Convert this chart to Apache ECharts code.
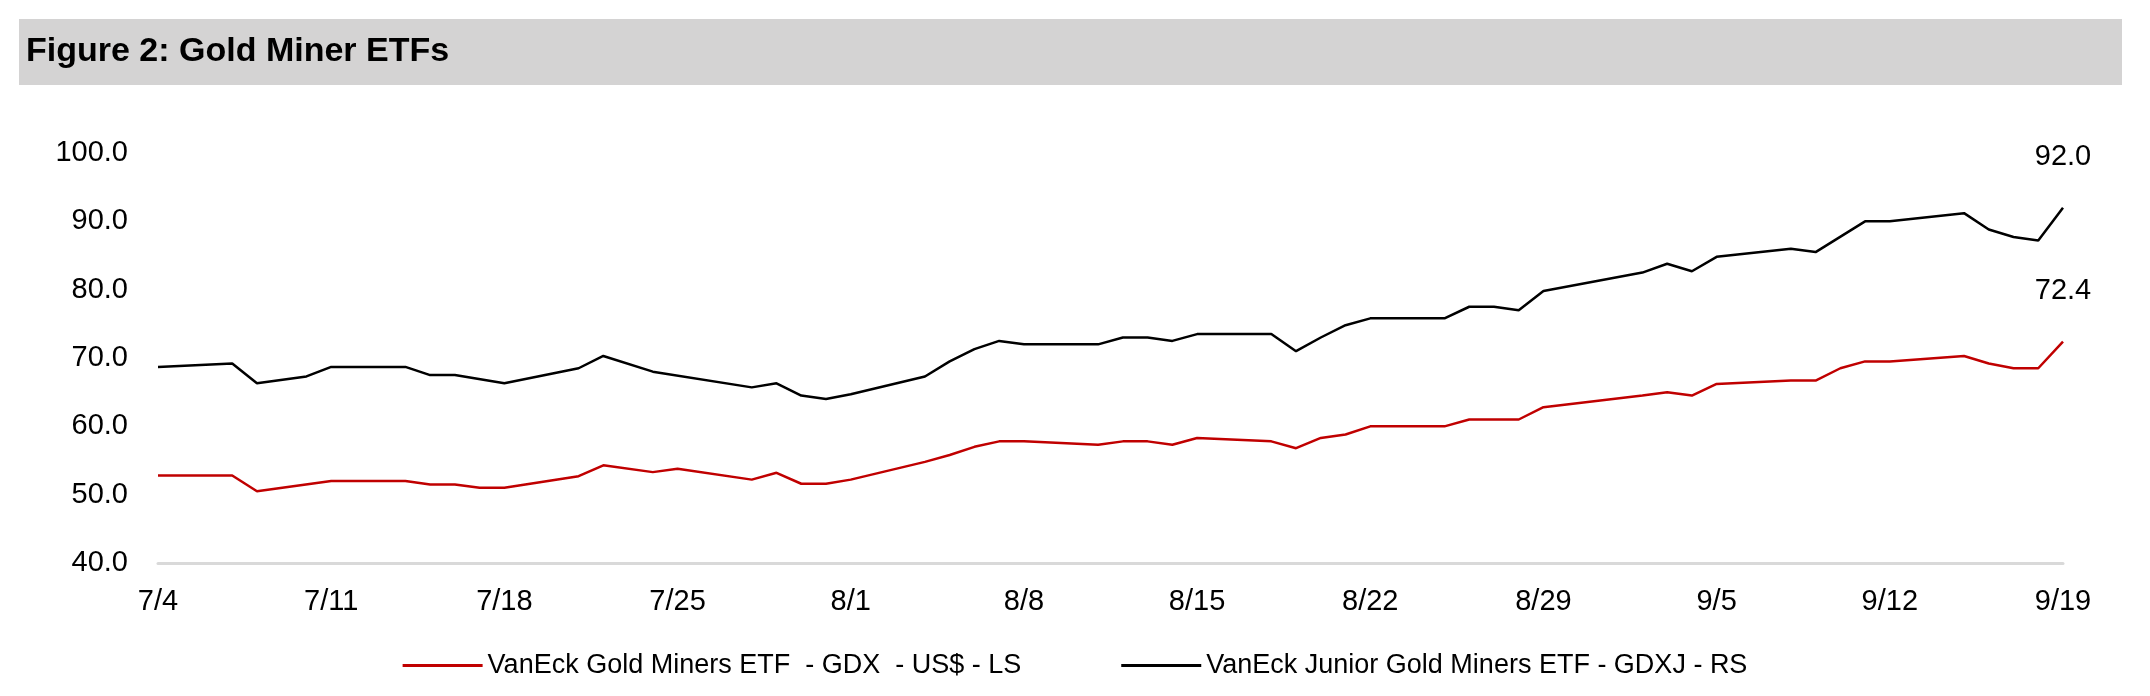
<!DOCTYPE html><html><head><meta charset="utf-8"><script src="https://cdn.jsdelivr.net/npm/echarts@6/dist/echarts.min.js"></script>
<style>body{margin:0;background:#fff}#c{width:2150px;height:696px}</style></head><body><div id="c"></div><script>
const gdxPts={0:52.8,3:52.8,4:50.5,7:52.0,10:52.0,11:51.5,12:51.5,13:51.0,14:51.0,17:52.7,18:54.3,20:53.3,21:53.8,24:52.2,25:53.2,26:51.6,27:51.6,28:52.2,31:54.8,32:55.8,33:57.0,34:57.8,35:57.8,38:57.3,39:57.8,40:57.8,41:57.3,42:58.3,45:57.8,46:56.8,47:58.3,48:58.8,49:60.0,52:60.0,53:61.0,55:61.0,56:62.8,60:64.5,61:65.0,62:64.5,63:66.2,66:66.7,67:66.7,68:68.5,69:69.5,70:69.5,73:70.3,74:69.2,75:68.5,76:68.5,77:72.4};
const gdxjPts={0:68.7,3:69.2,4:66.3,6:67.3,7:68.7,10:68.7,11:67.5,12:67.5,14:66.3,17:68.5,18:70.3,20:68.0,24:65.7,25:66.3,26:64.5,27:64.0,28:64.7,31:67.3,32:69.5,33:71.3,34:72.5,35:72.0,38:72.0,39:73.0,40:73.0,41:72.5,42:73.5,45:73.5,46:71.0,47:73.0,48:74.8,49:75.8,52:75.8,53:77.5,54:77.5,55:77.0,56:79.8,60:82.5,61:83.8,62:82.7,63:84.8,66:86.0,67:85.5,69:90.0,70:90.0,73:91.2,74:88.8,75:87.7,76:87.2,77:92.0};
const nDays=78;
const categories=[];
for(let i=0;i<nDays;i++){const d=new Date(2022,6,4+i);categories.push((d.getMonth()+1)+'/'+d.getDate());}
const gdx=categories.map((_,i)=>i in gdxPts?gdxPts[i]:null);
const gdxj=categories.map((_,i)=>i in gdxjPts?gdxjPts[i]:null);
const last=nDays-1;
const F='Liberation Sans';
const ch=echarts.init(document.getElementById('c'));
const mp=(v)=>({symbol:'circle',symbolSize:1,itemStyle:{color:'transparent'},label:{show:true,position:'top',distance:36,fontSize:29,color:'#000',fontFamily:F,formatter:v.toFixed(1)},data:[{coord:[last,v]}]});
ch.setOption({
 animation:false,
 graphic:[{type:'rect',shape:{x:19,y:19,width:2103,height:66},style:{fill:'#d4d3d3'}},
  {type:'text',left:26,top:35,style:{text:'Figure 2: Gold Miner ETFs',font:'bold 34px "Liberation Sans"',fill:'#000'}}],
 grid:{left:158,right:87,top:153,bottom:133},
 legend:{bottom:12,left:'center',itemGap:100,itemWidth:80,itemHeight:3,icon:'rect',textStyle:{fontSize:27,fontFamily:F,color:'#000'},
  data:['VanEck Gold Miners ETF  - GDX  - US$ - LS','VanEck Junior Gold Miners ETF - GDXJ - RS']},
 xAxis:{type:'category',data:categories,boundaryGap:false,
  axisLine:{lineStyle:{color:'#d9d9d9',width:3}},axisTick:{show:false},
  axisLabel:{interval:6,fontSize:29,color:'#000',fontFamily:F,margin:24}},
 yAxis:{type:'value',min:40,max:100,interval:10,splitLine:{show:false},
  axisLabel:{formatter:v=>v.toFixed(1),fontSize:29,color:'#000',fontFamily:F,margin:30}},
 series:[
  {name:'VanEck Gold Miners ETF  - GDX  - US$ - LS',type:'line',data:gdx,connectNulls:true,showSymbol:false,lineStyle:{color:'#c00000',width:2.5},itemStyle:{color:'#c00000'},markPoint:mp(gdx[last])},
  {name:'VanEck Junior Gold Miners ETF - GDXJ - RS',type:'line',data:gdxj,connectNulls:true,showSymbol:false,lineStyle:{color:'#000',width:2.5},itemStyle:{color:'#000'},markPoint:mp(gdxj[last])}
 ]
});
</script></body></html>
